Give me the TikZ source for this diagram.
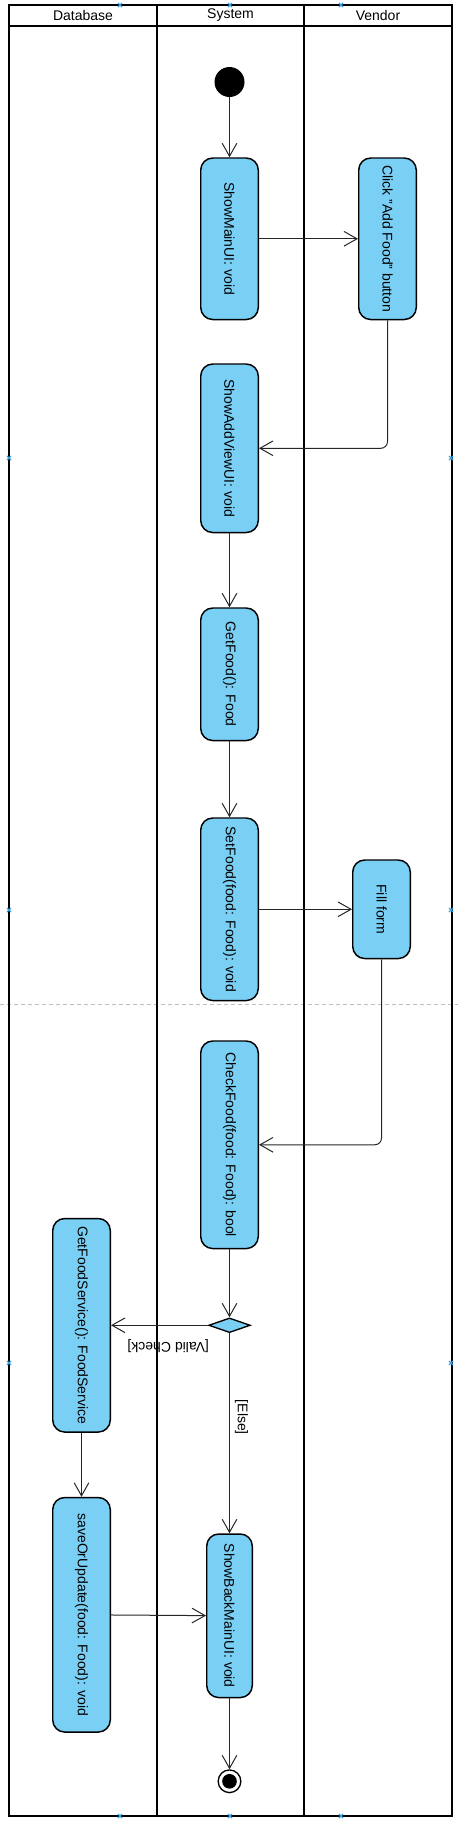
\documentclass[tikz,border=0pt]{standalone}
\usepackage{fontspec}
\setmainfont{Liberation Sans}
\usepackage{tikz}
\usetikzlibrary{arrows.meta,positioning,shapes.geometric}
\definecolor{actblue}{RGB}{122,207,245}
\definecolor{handleblue}{RGB}{52,160,228}
\tikzstyle{lane}=[
	draw=black,
	line width=1.5pt
]
\tikzstyle{lanehead}=[
	font=\fontsize{10.5}{12}\selectfont,
	inner sep=0pt
]
\tikzstyle{action}=[
	rectangle,
	rounded corners=9pt,
	draw=black,
	line width=1.1pt,
	fill=actblue,
	minimum width=43.15pt,
	inner sep=0pt,
	font=\fontsize{10.5}{12}\selectfont
]
\tikzstyle{initial}=[
	circle,
	fill=black,
	minimum size=22.5pt,
	inner sep=0pt
]
\tikzstyle{final}=[
	circle,
	draw=black,
	line width=1pt,
	fill=white,
	minimum size=17pt,
	inner sep=0pt,
	path picture={\fill[black] (path picture bounding box.center) circle (5.5pt);}
]
\tikzstyle{decision}=[
	diamond,
	draw=black,
	line width=1pt,
	fill=actblue,
	minimum width=31.25pt,
	minimum height=11pt,
	inner sep=0pt
]
\tikzstyle{flow}=[
	-{Straight Barb[length=9.75pt,width=11pt]},
	draw=black!85,
	line width=0.75pt
]
\tikzstyle{guard}=[
	font=\fontsize{10.5}{12}\selectfont,
	inner sep=0pt
]
\tikzstyle{handle}=[
	draw=handleblue,
	line width=0.9pt
]
\begin{document}
\begin{tikzpicture}[x=0.75pt, y=-0.75pt]
\useasboundingbox (0,0) rectangle (458,1825);
\draw[black!25, line width=0.75pt, dash pattern=on 3pt off 2.25pt] (0,1004) -- (458,1004);

\draw[lane] (9,5) rectangle (452,1816);
\draw[lane] (9,26) -- (452,26);
\draw[lane] (157,5) -- (157,1816);
\draw[lane] (304,5) -- (304,1816);
\node[lanehead] (dbhead) at (83,15.5) {Database};
\node[lanehead] (syshead) at (230.5,15.5) {System};
\node[lanehead] (venhead) at (378,15.5) {Vendor};

\node[initial] (start) at (229.5,82) {};
\node[action, minimum height=121.15pt, below=45pt of start] (showmain) {\rotatebox{-90}{ShowMainUI: void}};
\node[action, minimum height=121.15pt, right=74.25pt of showmain] (addbutton) {\rotatebox{-90}{Click "Add Food" button}};
\node[action, minimum height=126.4pt, below=32.25pt of showmain] (showadd) {\rotatebox{-90}{ShowAddViewUI: void}};
\node[action, minimum height=99.4pt, below=55.5pt of showadd] (getfood) {\rotatebox{-90}{GetFood(): Food}};
\node[action, minimum height=136.9pt, below=57pt of getfood] (setfood) {\rotatebox{-90}{SetFood(food: Food): void}};
\node[action, minimum height=73.9pt, right=69.75pt of setfood] (fillform) {\rotatebox{-90}{Fill form}};
\node[action, minimum height=155.65pt, below=29.25pt of setfood] (checkfood) {\rotatebox{-90}{CheckFood(food: Food): bool}};
\node[decision, below=51pt of checkfood] (check) {};
\node[action, minimum height=160.15pt, left=72.75pt of check] (getservice) {\rotatebox{-90}{GetFoodService(): FoodService}};
\node[action, minimum height=175.9pt, below=48pt of getservice] (saveupdate) {\rotatebox{-90}{saveOrUpdate(food: Food): void}};
\node[action, minimum width=34.15pt, minimum height=122.65pt, below=150pt of check] (showback) {\rotatebox{-90}{ShowBackMainUI: void}};
\node[final, below=53.25pt of showback] (end) {};

\draw[flow] (start) -- (showmain);
\draw[flow] (showmain) -- (addbutton);
\draw[flow, rounded corners=5pt] (addbutton) |- (showadd);
\draw[flow] (showadd) -- (getfood);
\draw[flow] (getfood) -- (setfood);
\draw[flow] (setfood) -- (fillform);
\draw[flow, rounded corners=5pt] (fillform) |- (checkfood);
\draw[flow] (checkfood) -- (check);
\draw[flow] (check) -- node[guard, pos=0.41, yshift=-15.75pt, rotate=180] {[Valid Check]} (getservice);
\draw[flow] (check) -- node[guard, pos=0.42, xshift=9pt, rotate=-90] {[Else]} (showback);
\draw[flow] (getservice) -- (saveupdate);
\draw[flow] (saveupdate) -- (showback);
\draw[flow] (showback) -- (end);

\foreach \hx in {120,230,341} {
	\draw[handle] (\hx,5) +(-2,-2) -- +(2,2) +(-2,2) -- +(2,-2);
	\draw[handle] (\hx,1816) +(-2,-2) -- +(2,2) +(-2,2) -- +(2,-2);
}
\foreach \hy in {458,910,1363} {
	\draw[handle] (9,\hy) +(-2,-2) -- +(2,2) +(-2,2) -- +(2,-2);
	\draw[handle] (451,\hy) +(-2,-2) -- +(2,2) +(-2,2) -- +(2,-2);
}
\end{tikzpicture}
\end{document}
